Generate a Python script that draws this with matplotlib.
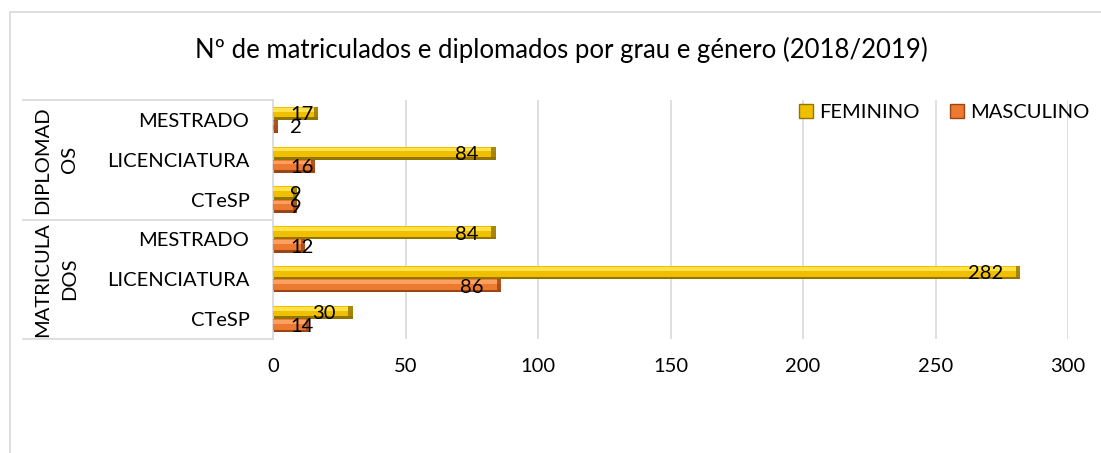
import numpy as np
import matplotlib
matplotlib.use('Agg')
import matplotlib.pyplot as plt
from matplotlib.lines import Line2D
from matplotlib.patches import Patch

plt.rcParams['font.family'] = ['Lato', 'DejaVu Sans']

# data
categories = ['CTeSP', 'LICENCIATURA', 'MESTRADO', 'CTeSP', 'LICENCIATURA', 'MESTRADO']
groups = ['MATRICULA\nDOS', 'DIPLOMAD\nOS']
feminino = [30, 282, 84, 9, 84, 17]
masculino = [14, 86, 12, 9, 16, 2]
xticks = [0, 50, 100, 150, 200, 250, 300]

fem_cols = ('#FFE24A', '#F0C000', '#947400')
mas_cols = ('#FFA060', '#EC7A30', '#9A4516')
grid_col = '#D9D9D9'
fs = 14.5

W, H = 1101, 453
fig = plt.figure(figsize=(W / 100, H / 100), dpi=100)
x0, x1, y0, y1 = 273, 1068, 100, 339
ax = fig.add_axes([x0 / W, 1 - y1 / H, (x1 - x0) / W, (y1 - y0) / H])


def bevel_bar(ax, ypos, vals, h, cols):
    light, mid, dark = cols
    vals = np.asarray(vals, dtype=float)
    ax.barh(ypos, vals, height=h, color=dark, zorder=2)
    ax.barh(ypos + h * 0.1, vals, height=h * 0.8, color=mid, zorder=3)
    ax.barh(ypos + h * 0.28, vals, height=h * 0.28, color=light, zorder=4)
    cap = np.minimum(1.6, vals)
    ax.barh(ypos, cap, left=vals - cap, height=h, color=dark, alpha=0.8, zorder=5)


pos = np.arange(len(categories))
h = 0.33
bevel_bar(ax, pos + h / 2, feminino, h, fem_cols)
bevel_bar(ax, pos - h / 2, masculino, h, mas_cols)

# data labels, "inside end" style
margin = 6.4
lab_w = 9.5
for vals, yoff in ((feminino, h / 2), (masculino, -h / 2)):
    for p, v in zip(pos, vals):
        w = lab_w if v >= 10 else lab_w / 2
        if v - margin - w < margin:
            ax.text(margin, p + yoff - 0.03, str(v), ha='left', va='center',
                    fontsize=fs, zorder=6)
        else:
            ax.text(v - margin, p + yoff - 0.03, str(v), ha='right', va='center',
                    fontsize=fs, zorder=6)

ax.set_xlim(0, 300)
ax.set_ylim(-0.5, len(categories) - 0.5)
ax.set_xticks(xticks)
ax.set_xticklabels([str(t) for t in xticks], fontsize=fs)
ax.set_yticks(pos)
ax.set_yticklabels(categories, fontsize=fs)
ax.tick_params(axis='y', length=0, pad=17)
ax.tick_params(axis='x', length=0, pad=14)
ax.grid(axis='x', color=grid_col, linewidth=1.2, zorder=0)
ax.set_axisbelow(True)
for s in ax.spines.values():
    s.set_visible(False)

# multi-level category box
lx = (23 - x0) / (x1 - x0)
for yy in (0, 0.5, 1):
    ax.add_line(Line2D([lx, 0], [yy, yy], transform=ax.transAxes, color=grid_col,
                       linewidth=1.2, clip_on=False))
ax.add_line(Line2D([0, 0], [0, 1], transform=ax.transAxes, color=grid_col,
                   linewidth=1.2, clip_on=False))
gx = (56 - x0) / (x1 - x0)
for g, yy in zip(groups, (0.25, 0.75)):
    ax.text(gx, yy, g, transform=ax.transAxes, rotation=90, ha='center', va='center',
            multialignment='center', fontsize=fs, linespacing=1.75)

# chart border
fig.add_artist(Line2D([10 / W, 10 / W], [0, 1 - 12 / H], color=grid_col, linewidth=1.2))
fig.add_artist(Line2D([10 / W, 1], [1 - 12 / H, 1 - 12 / H], color=grid_col, linewidth=1.2))

fig.text(561 / W, 1 - 50 / H, 'Nº de matriculados e diplomados por grau e género (2018/2019)',
         ha='center', va='center', fontsize=18.5)

handles = [Patch(facecolor=fem_cols[1], edgecolor=fem_cols[2]),
           Patch(facecolor=mas_cols[1], edgecolor=mas_cols[2])]
fig.legend(handles, ['FEMININO', 'MASCULINO'], loc='upper right',
           bbox_to_anchor=(0.997, 1 - 96 / H), ncol=2, frameon=False, fontsize=fs,
           handlelength=0.7, handleheight=0.7, handletextpad=0.3, columnspacing=1.5,
           borderaxespad=0)

fig.savefig('out.png', dpi=100)
